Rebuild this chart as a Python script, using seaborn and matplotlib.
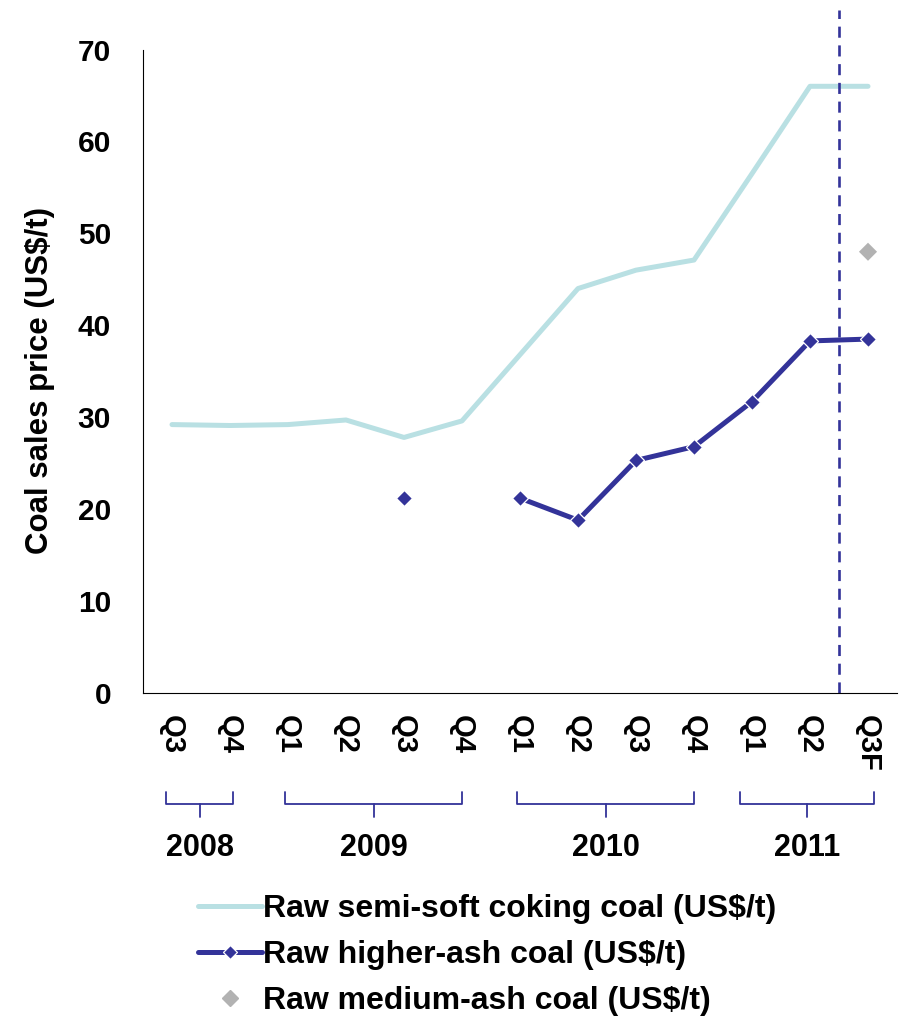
import numpy as np
import matplotlib
matplotlib.use("Agg")
import matplotlib.pyplot as plt
import matplotlib.transforms as mtransforms
from matplotlib.lines import Line2D
import pandas as pd
import seaborn as sns

quarters = ["Q3", "Q4", "Q1", "Q2", "Q3", "Q4", "Q1", "Q2", "Q3", "Q4", "Q1", "Q2", "Q3F"]
semi_soft = [29.2, 29.1, 29.2, 29.7, 27.8, 29.6, 36.8, 44.0, 46.0, 47.1, 56.5, 66.0, 66.0]
higher_ash = [np.nan, np.nan, np.nan, np.nan, 21.2, np.nan, 21.2, 18.8, 25.3, 26.8, 31.7, 38.3, 38.5]
medium_ash = [np.nan] * 12 + [48.0]
years = ["2008", "2009", "2010", "2011"]
year_spans = [(-0.1, 1.05), (1.95, 5.0), (5.95, 9.0), (9.8, 12.1)]

labels = ["Raw semi-soft coking coal (US$/t)",
          "Raw higher-ash coal (US$/t)",
          "Raw medium-ash coal (US$/t)"]
c_semi = "#B9E0E3"
c_high = "#333399"
c_med = "#B2B2B2"

sns.set_style("white")
plt.rcParams["font.family"] = ["Liberation Sans", "DejaVu Sans"]
plt.rcParams["font.weight"] = "bold"
plt.rcParams["text.color"] = "black"
plt.rcParams["axes.labelcolor"] = "black"

pos = np.arange(len(quarters))
df_semi = pd.DataFrame({"pos": pos, "val": semi_soft})
ha = np.array(higher_ash)
seg = np.cumsum(np.isnan(ha))
df_high = pd.DataFrame({"pos": pos, "val": ha, "seg": seg}).dropna()
df_med = pd.DataFrame({"pos": pos, "val": medium_ash}).dropna()

fig = plt.figure(figsize=(9.03, 10.19), dpi=100)
ax = fig.add_axes([143 / 903, 1 - 693 / 1019, 754 / 903, 683 / 1019])

sns.lineplot(data=df_semi, x="pos", y="val", color=c_semi, linewidth=3.6,
             solid_capstyle="round", ax=ax, legend=False)
sns.lineplot(data=df_high, x="pos", y="val", units="seg", estimator=None,
             color=c_high, linewidth=3.6, marker="D", markersize=8,
             markeredgecolor="white", markeredgewidth=0.9, ax=ax, legend=False)
sns.scatterplot(data=df_med, x="pos", y="val", color=c_med, marker="D", s=85,
                edgecolor="none", ax=ax, legend=False)

ax.axvline(11.5, color=c_high, linewidth=1.9, linestyle=(0, (4.2, 2.9)))

ax.set_xlim(-0.5, len(quarters) - 0.5)
ax.set_ylim(0, 74.3)
ax.set_yticks(range(0, 71, 10))
ax.spines["left"].set_bounds(0, 70)
for s in ["top", "right"]:
    ax.spines[s].set_visible(False)
ax.spines["left"].set_color("black")
ax.spines["bottom"].set_color("black")

ax.set_xticks(pos)
ax.set_xticklabels(quarters, rotation=270, fontsize=21, fontweight="bold")
ax.set_xticks(np.arange(-0.5, len(quarters), 1.0), minor=True)
ax.tick_params(axis="x", which="major", length=0, pad=16, labelcolor="black")
ax.tick_params(axis="x", which="minor", length=10, width=1, color="#999999", direction="out")
ax.tick_params(axis="y", length=9, width=1, color="#999999", direction="out",
               labelsize=21.5, pad=14, labelcolor="black")
for t in ax.get_yticklabels():
    t.set_fontweight("bold")
ax.set_xlabel("")
ax.set_ylabel("Coal sales price (US$/t)", fontsize=22.5, fontweight="bold")
ax.yaxis.set_label_coords(-0.117, 0.458)

# year brackets under the quarter labels
trans = mtransforms.blended_transform_factory(ax.transData, fig.transFigure)
y_top = 1 - 792 / 1019
y_mid = 1 - 804 / 1019
y_bot = 1 - 817 / 1019
for yr, (a, b) in zip(years, year_spans):
    m = (a + b) / 2
    ax.plot([a, a, b, b], [y_top, y_mid, y_mid, y_top], color=c_high, lw=1.3,
            transform=trans, clip_on=False)
    ax.plot([m, m], [y_mid, y_bot], color=c_high, lw=1.3, transform=trans, clip_on=False)
    ax.text(m, 1 - 848 / 1019, yr, transform=trans, ha="center", va="center",
            fontsize=22, fontweight="bold")

handles = [
    Line2D([], [], color=c_semi, lw=3.6),
    Line2D([], [], color=c_high, lw=3.6, marker="D", markersize=7.5,
           markeredgecolor="white", markeredgewidth=0.9),
    Line2D([], [], color=c_med, lw=0, marker="D", markersize=8),
]
fig.legend(handles, labels, loc="upper left", bbox_to_anchor=(198 / 903, 1 - 894 / 1019),
           frameon=False, handlelength=2.0, handletextpad=0.05,
           labelspacing=0.5, borderpad=0, borderaxespad=0,
           prop={"weight": "bold", "size": 23})

fig.savefig("out.png", dpi=100)
